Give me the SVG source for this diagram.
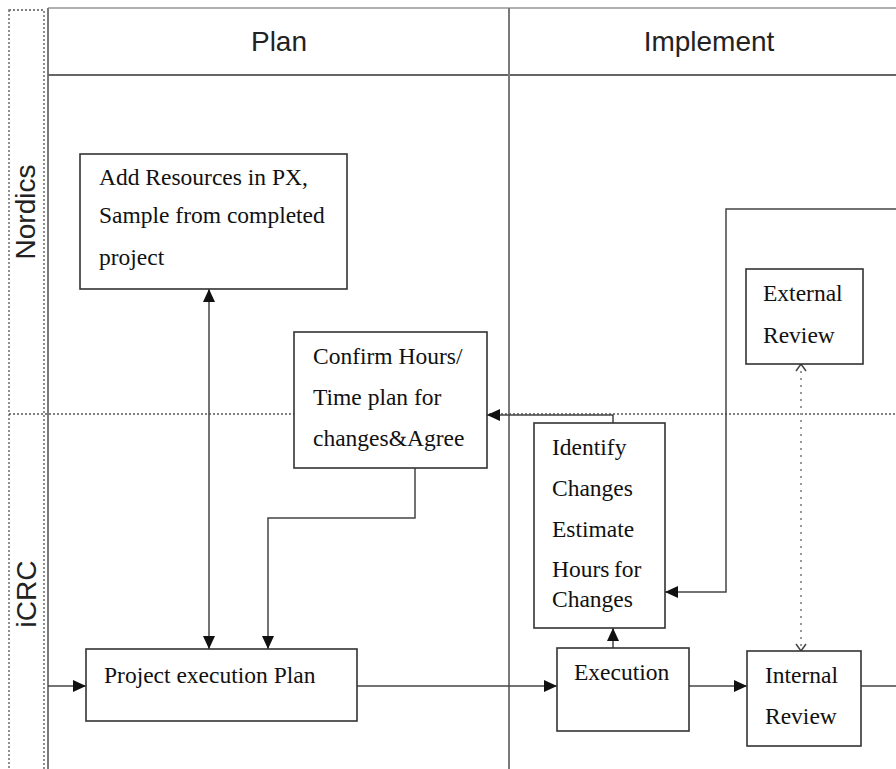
<svg xmlns="http://www.w3.org/2000/svg" width="896" height="769" viewBox="0 0 896 769">
<style>
.hdr{font-family:"Liberation Sans",Arial,sans-serif;font-size:28px;fill:#222}
.lane{font-family:"Liberation Sans",Arial,sans-serif;font-size:28px;fill:#222}
.t{font-family:"Liberation Serif","Times New Roman",serif;font-size:23.5px;fill:#111}
.box{fill:#fff;stroke:#333;stroke-width:1.6}
.pool{stroke:#7a7a7a;stroke-width:2;fill:none}
.dot{stroke:#555;stroke-width:1.3;stroke-dasharray:2 2;fill:none}
.c{stroke:#444;stroke-width:1.5;fill:none}
.cd{stroke:#999;stroke-width:2;stroke-dasharray:2 5;fill:none}
</style>
<defs>
<marker id="ar" markerUnits="userSpaceOnUse" markerWidth="14" markerHeight="12" refX="13" refY="6" orient="auto-start-reverse">
<path d="M0,0 L13,6 L0,12 z" fill="#111"/>
</marker>
<marker id="ch" markerUnits="userSpaceOnUse" markerWidth="10" markerHeight="12" refX="8" refY="6" orient="auto-start-reverse">
<path d="M1,1 L8,6 L1,11" fill="none" stroke="#444" stroke-width="1.5"/>
</marker>
</defs>
<rect width="896" height="769" fill="#fff"/>
<g id="pool">
<rect class="dot" x="9" y="10" width="35" height="770"/>
<line class="pool" x1="48" y1="8" x2="896" y2="8" stroke="#aaa" style="stroke:#b0b0b0"/>
<line class="pool" x1="48" y1="8" x2="48" y2="769"/>
<line class="pool" x1="48" y1="75" x2="896" y2="75" style="stroke:#666"/>
<line class="pool" x1="509" y1="8" x2="509" y2="769"/>
<line class="dot" x1="9" y1="414" x2="896" y2="414"/>
<text class="hdr" x="279" y="51" text-anchor="middle">Plan</text>
<text class="hdr" x="709" y="51" text-anchor="middle">Implement</text>
<text class="lane" transform="translate(35,212) rotate(-90)" text-anchor="middle">Nordics</text>
<text class="lane" transform="translate(36,594) rotate(-90)" text-anchor="middle">iCRC</text>
</g>
<g id="connectors">
<line class="c" x1="48" y1="686" x2="86" y2="686" marker-end="url(#ar)"/>
<line class="c" x1="357" y1="686" x2="557" y2="686" marker-end="url(#ar)"/>
<line class="c" x1="689" y1="686" x2="747" y2="686" marker-end="url(#ar)"/>
<line class="c" x1="861" y1="686" x2="896" y2="686"/>
<line class="c" x1="209" y1="289" x2="209" y2="649" marker-start="url(#ar)" marker-end="url(#ar)"/>
<polyline class="c" points="415,468 415,518 268,518 268,649" marker-end="url(#ar)"/>
<line class="c" x1="613" y1="648" x2="613" y2="628" marker-end="url(#ar)"/>
<polyline class="c" points="613,423 613,415 487,415" marker-end="url(#ar)"/>
<polyline class="c" points="896,209 726,209 726,592 665,592" marker-end="url(#ar)"/>
<line class="cd" x1="801" y1="364" x2="801" y2="651" marker-start="url(#ch)" marker-end="url(#ch)"/>
</g>
<g id="add-resources">
<rect class="box" x="80" y="154" width="267" height="135"/>
<text class="t" x="99" y="185">Add Resources in PX,</text>
<text class="t" x="99" y="223">Sample from completed</text>
<text class="t" x="99" y="265">project</text>
</g>
<g id="confirm-hours">
<rect class="box" x="294" y="332" width="193" height="136"/>
<text class="t" x="313" y="364">Confirm Hours/</text>
<text class="t" x="313" y="405">Time plan for</text>
<text class="t" x="313" y="446">changes&amp;Agree</text>
</g>
<g id="identify-changes">
<rect class="box" x="534" y="423" width="131" height="205"/>
<text class="t" x="552" y="455">Identify</text>
<text class="t" x="552" y="496">Changes</text>
<text class="t" x="552" y="537">Estimate</text>
<text class="t" x="552" y="577">Hours<tspan x="614">for</tspan></text>
<text class="t" x="552" y="607">Changes</text>
</g>
<g id="external-review">
<rect class="box" x="746" y="269" width="117" height="95"/>
<text class="t" x="763" y="301">External</text>
<text class="t" x="763" y="343">Review</text>
</g>
<g id="project-execution-plan">
<rect class="box" x="86" y="649" width="271" height="72"/>
<text class="t" x="104" y="683">Project execution Plan</text>
</g>
<g id="execution">
<rect class="box" x="557" y="648" width="132" height="83"/>
<text class="t" x="574" y="680">Execution</text>
</g>
<g id="internal-review">
<rect class="box" x="747" y="651" width="114" height="95"/>
<text class="t" x="765" y="683">Internal</text>
<text class="t" x="765" y="724">Review</text>
</g>
</svg>
